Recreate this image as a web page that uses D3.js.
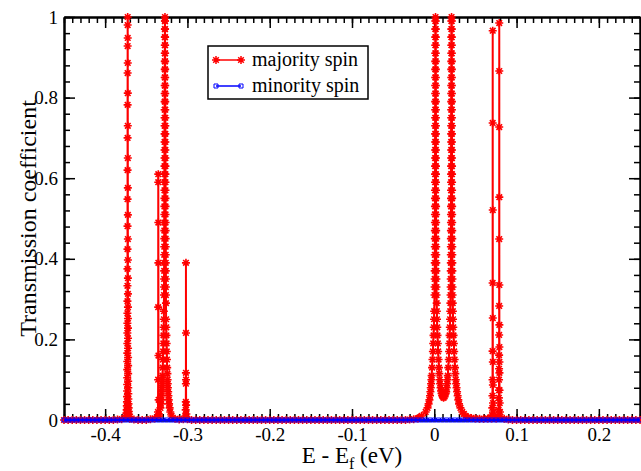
<!DOCTYPE html>
<html>
<head>
<meta charset="utf-8">
<script src="https://cdn.jsdelivr.net/npm/d3@7"></script>
<style>
  html, body { margin: 0; padding: 0; background: #fff; }
</style>
</head>
<body>
<div id="chart"></div>
<script>
// tick labels
const xTicks = [-0.4, -0.3, -0.2, -0.1, 0, 0.1, 0.2];
const yTicks = [0, 0.2, 0.4, 0.6, 0.8, 1];
const seriesNames = ["majority spin", "minority spin"];

// energy grid of the flat background (eV)
const energyGrid = [
  -0.45,-0.445,-0.44,-0.435,-0.43,-0.425,-0.42,-0.415,-0.41,-0.405,
  -0.4,-0.395,-0.39,-0.385,-0.38,-0.375,-0.37,-0.365,-0.36,-0.355,
  -0.35,-0.345,-0.34,-0.335,-0.33,-0.325,-0.32,-0.315,-0.31,-0.305,
  -0.3,-0.295,-0.29,-0.285,-0.28,-0.275,-0.27,-0.265,-0.26,-0.255,
  -0.25,-0.245,-0.24,-0.235,-0.23,-0.225,-0.22,-0.215,-0.21,-0.205,
  -0.2,-0.195,-0.19,-0.185,-0.18,-0.175,-0.17,-0.165,-0.16,-0.155,
  -0.15,-0.145,-0.14,-0.135,-0.13,-0.125,-0.12,-0.115,-0.11,-0.105,
  -0.1,-0.095,-0.09,-0.085,-0.08,-0.075,-0.07,-0.065,-0.06,-0.055,
  -0.05,-0.045,-0.04,-0.035,-0.03,-0.025,-0.02,-0.015,-0.01,-0.005,
  0,0.005,0.01,0.015,0.02,0.025,0.03,0.035,0.04,0.045,
  0.05,0.055,0.06,0.065,0.07,0.075,0.08,0.085,0.09,0.095,
  0.1,0.105,0.11,0.115,0.12,0.125,0.13,0.135,0.14,0.145,
  0.15,0.155,0.16,0.165,0.17,0.175,0.18,0.185,0.19,0.195,
  0.2,0.205,0.21,0.215,0.22,0.225,0.23,0.235,0.24,0.245,
  0.25
];

// majority background on the grid (null = inside a resonance listed below)
const majorityBaseT = [
  0,0,0,0,0,0,0,0,0,0,
  0,0,0,0.001,0.002,null,0.003,0.001,0,0,
  0,0.002,0.004,null,null,null,null,0.003,0.001,0.002,
  0.002,0,0,0,0,0,0,0,0,0,
  0,0,0,0,0,0,0,0,0,0,
  0,0,0,0,0,0,0,0,0,0,
  0,0,0,0,0,0,0,0,0,0,
  0,0,0,0,0,0,0,0,0,0,
  0,0,0,0,0.001,0.002,0.004,null,null,null,
  null,null,null,null,null,null,null,null,null,null,
  0.004,0.003,0.003,0.004,null,null,null,0.003,0.001,0,
  0,0,0,0,0,0,0,0,0,0,
  0,0,0,0,0,0,0,0,0,0,
  0,0,0,0,0,0,0,0,0,0,
  0
];

// minority spin on the grid
const minorityT = [
  0,0,0,0,0,0,0,0,0,0,
  0,0,0,0,0,0,0,0,0,0,
  0,0,0,0,0,0,0,0,0,0,
  0,0,0,0,0,0,0,0,0,0,
  0,0,0,0,0,0,0,0,0,0,
  0,0,0,0,0,0,0,0,0,0,
  0,0,0,0,0,0,0,0,0,0,
  0,0,0,0,0,0,0,0,0,0,
  0,0,0,0,0,0,0,0,0,0,
  0,0,0,0,0,0,0,0,0,0,
  0,0,0,0,0,0,0,0,0,0,
  0,0,0,0,0,0,0,0,0,0,
  0,0,0,0,0,0,0,0,0,0,
  0,0,0,0,0,0,0,0,0,0,
  0
];

// majority resonances [E, T]
const peakA = [
  [-0.3752,0.006],[-0.3745,0.011],[-0.3741,0.017],[-0.37385,0.025],[-0.37365,0.035],[-0.37352,0.045],
  [-0.37341,0.058],[-0.37332,0.072],[-0.37324,0.088],[-0.37318,0.105],[-0.37313,0.125],[-0.37309,0.145],
  [-0.37305,0.166],[-0.37301,0.19],[-0.37298,0.216],[-0.37296,0.24],[-0.37293,0.265],[-0.37291,0.295],
  [-0.37288,0.333],[-0.37286,0.375],[-0.37283,0.424],[-0.37281,0.481],[-0.37278,0.548],[-0.37276,0.62],
  [-0.37273,0.70],[-0.37271,0.782],[-0.37268,0.861],[-0.37266,0.928],[-0.37263,0.98],[-0.3726,1.0],
  [-0.37255,0.948],[-0.37253,0.886],[-0.3725,0.811],[-0.37248,0.73],[-0.37245,0.65],[-0.37243,0.576],
  [-0.3724,0.509],[-0.37238,0.449],[-0.37235,0.397],[-0.37233,0.352],[-0.3723,0.313],[-0.37228,0.28],
  [-0.37226,0.252],[-0.37223,0.228],[-0.3722,0.203],[-0.37217,0.178],[-0.37213,0.155],[-0.37209,0.135],
  [-0.37205,0.115],[-0.37199,0.096],[-0.37192,0.08],[-0.37184,0.065],[-0.37175,0.052],[-0.37162,0.04],
  [-0.37146,0.03],[-0.37123,0.021],[-0.3709,0.014],[-0.3704,0.008]
];
const spikeB = [
  [-0.3358,0.02],[-0.3356,0.1],[-0.33553,0.28],[-0.33545,0.59],[-0.3354,0.61],[-0.33535,0.49],
  [-0.3353,0.39],[-0.3352,0.16],[-0.335,0.05],[-0.3347,0.015]
];
const peakC = [
  [-0.3345,0.01],[-0.3328,0.03],[-0.3322,0.04],[-0.3318,0.05],[-0.3315,0.06],[-0.3312,0.07],
  [-0.3309,0.08],[-0.3307,0.09],[-0.3305,0.10],[-0.3303,0.11],[-0.33,0.13],[-0.3298,0.15],
  [-0.3295,0.17],[-0.3293,0.19],[-0.3291,0.21],[-0.3289,0.23],[-0.3287,0.25],[-0.3286,0.27],
  [-0.32845,0.31],[-0.32838,0.33],[-0.32833,0.35],[-0.32827,0.37],[-0.32821,0.39],[-0.32818,0.41],
  [-0.32814,0.43],[-0.32811,0.45],[-0.32808,0.47],[-0.32805,0.49],[-0.32802,0.51],[-0.32799,0.53],
  [-0.32796,0.55],[-0.32793,0.57],[-0.32791,0.59],[-0.32788,0.61],[-0.32786,0.63],[-0.32783,0.65],
  [-0.32781,0.67],[-0.32778,0.69],[-0.32776,0.71],[-0.32775,0.73],[-0.32773,0.75],[-0.3277,0.77],
  [-0.32768,0.79],[-0.32766,0.81],[-0.32763,0.83],[-0.3276,0.85],[-0.32758,0.87],[-0.32755,0.89],
  [-0.32753,0.91],[-0.3275,0.93],[-0.32747,0.95],[-0.32742,0.97],[-0.32737,0.99],[-0.3273,1.0],
  [-0.32723,0.99],[-0.32718,0.97],[-0.32713,0.95],[-0.3271,0.93],[-0.32707,0.91],[-0.32705,0.89],
  [-0.32702,0.87],[-0.327,0.85],[-0.32697,0.83],[-0.32694,0.81],[-0.32692,0.79],[-0.3269,0.77],
  [-0.32687,0.75],[-0.32685,0.73],[-0.32684,0.71],[-0.32682,0.69],[-0.32679,0.67],[-0.32677,0.65],
  [-0.32674,0.63],[-0.32672,0.61],[-0.32669,0.59],[-0.32667,0.57],[-0.32664,0.55],[-0.32661,0.53],
  [-0.32658,0.51],[-0.32655,0.49],[-0.32652,0.47],[-0.32649,0.45],[-0.32646,0.43],[-0.32642,0.41],
  [-0.32639,0.39],[-0.32633,0.37],[-0.32628,0.35],[-0.32625,0.33],[-0.32618,0.31],[-0.3261,0.29],
  [-0.3259,0.25],[-0.3257,0.23],[-0.3255,0.21],[-0.3253,0.19],[-0.3251,0.17],[-0.3249,0.15],
  [-0.3246,0.13],[-0.3243,0.115],[-0.3241,0.10],[-0.3239,0.09],[-0.3237,0.08],[-0.3234,0.07],
  [-0.3231,0.06],[-0.3227,0.05],[-0.3223,0.04],[-0.3216,0.03],[-0.3208,0.02],[-0.3193,0.01]
];
const spikeD = [
  [-0.3024,0.01],[-0.3021,0.025],[-0.30195,0.045],[-0.30188,0.09],[-0.30184,0.117],[-0.3018,0.39],
  [-0.30176,0.216],[-0.3017,0.10],[-0.3016,0.037],[-0.3013,0.015]
];
const twinPeaks = [
  [-0.019,0.005],[-0.0155,0.01],[-0.0105,0.02],[-0.0082,0.03],[-0.0069,0.04],[-0.0059,0.05],
  [-0.0052,0.06],[-0.0047,0.07],[-0.0043,0.08],[-0.0039,0.09],[-0.0035,0.10],[-0.0032,0.11],
  [-0.0027,0.13],[-0.0022,0.15],[-0.0017,0.17],[-0.0013,0.19],[-0.0009,0.21],[-0.0006,0.23],
  [-0.0003,0.25],[-0.0001,0.27],[0.0003,0.31],[0.0004,0.33],[0.00047,0.35],[0.00053,0.37],
  [0.00059,0.39],[0.00062,0.41],[0.00066,0.43],[0.00069,0.45],[0.00072,0.47],[0.00075,0.49],
  [0.00078,0.51],[0.00081,0.53],[0.00084,0.55],[0.00087,0.57],[0.00089,0.59],[0.00092,0.61],
  [0.00094,0.63],[0.00097,0.65],[0.00099,0.67],[0.00102,0.69],[0.00104,0.71],[0.00105,0.73],
  [0.00107,0.75],[0.0011,0.77],[0.00112,0.79],[0.00114,0.81],[0.00117,0.83],[0.0012,0.85],
  [0.00122,0.87],[0.00125,0.89],[0.00127,0.91],[0.0013,0.93],[0.00133,0.95],[0.00138,0.97],
  [0.00143,0.99],[0.0015,1.0],
  [0.00157,0.99],[0.00162,0.97],[0.00167,0.95],[0.0017,0.93],[0.00173,0.91],[0.00175,0.89],
  [0.00178,0.87],[0.0018,0.85],[0.00183,0.83],[0.00186,0.81],[0.00188,0.79],[0.0019,0.77],
  [0.00193,0.75],[0.00195,0.73],[0.00196,0.71],[0.00198,0.69],[0.00201,0.67],[0.00203,0.65],
  [0.00206,0.63],[0.00208,0.61],[0.00211,0.59],[0.00213,0.57],[0.00216,0.55],[0.00219,0.53],
  [0.00222,0.51],[0.00225,0.49],[0.00228,0.47],[0.00231,0.45],[0.00234,0.43],[0.00238,0.41],
  [0.00241,0.39],[0.00247,0.37],[0.00253,0.35],[0.0026,0.33],[0.0027,0.31],[0.0029,0.29],
  [0.0031,0.27],[0.0033,0.25],[0.0036,0.23],[0.0039,0.21],[0.0043,0.19],[0.0047,0.17],
  [0.0052,0.15],[0.0057,0.13],[0.0061,0.115],[0.0066,0.10],[0.0071,0.09],[0.0076,0.08],
  [0.0082,0.072],[0.0089,0.066],[0.0096,0.061],[0.0103,0.058],[0.0113,0.055],
  [0.0125,0.058],[0.0138,0.066],[0.0145,0.07],[0.0151,0.08],[0.0156,0.09],[0.016,0.10],
  [0.0164,0.11],[0.017,0.13],[0.0176,0.15],[0.018,0.17],[0.0183,0.19],[0.0186,0.21],
  [0.0189,0.23],[0.0192,0.25],[0.0194,0.27],[0.0196,0.29],[0.0198,0.31],[0.0199,0.33],
  [0.01997,0.35],[0.02003,0.37],[0.02009,0.39],[0.02012,0.41],[0.02016,0.43],[0.02019,0.45],
  [0.02022,0.47],[0.02025,0.49],[0.02028,0.51],[0.02031,0.53],[0.02034,0.55],[0.02037,0.57],
  [0.02039,0.59],[0.02042,0.61],[0.02044,0.63],[0.02047,0.65],[0.02049,0.67],[0.02052,0.69],
  [0.02054,0.71],[0.02055,0.73],[0.02057,0.75],[0.0206,0.77],[0.02062,0.79],[0.02064,0.81],
  [0.02067,0.83],[0.0207,0.85],[0.02072,0.87],[0.02075,0.89],[0.02077,0.91],[0.0208,0.93],
  [0.02083,0.95],[0.02088,0.97],[0.02093,0.99],[0.021,1.0],
  [0.02107,0.99],[0.02112,0.97],[0.02117,0.95],[0.0212,0.93],[0.02123,0.91],[0.02125,0.89],
  [0.02128,0.87],[0.0213,0.85],[0.02133,0.83],[0.02136,0.81],[0.02138,0.79],[0.0214,0.77],
  [0.02143,0.75],[0.02145,0.73],[0.02146,0.71],[0.02148,0.69],[0.02151,0.67],[0.02153,0.65],
  [0.02156,0.63],[0.02158,0.61],[0.02161,0.59],[0.02163,0.57],[0.02166,0.55],[0.02169,0.53],
  [0.02172,0.51],[0.02175,0.49],[0.02178,0.47],[0.02181,0.45],[0.02184,0.43],[0.02188,0.41],
  [0.02191,0.39],[0.02197,0.37],[0.02203,0.35],[0.0221,0.33],[0.0222,0.31],[0.0224,0.29],
  [0.0226,0.27],[0.0228,0.25],[0.0231,0.23],[0.0234,0.21],[0.0238,0.19],[0.0242,0.17],
  [0.0247,0.15],[0.0252,0.13],[0.0256,0.115],[0.0261,0.10],[0.0266,0.09],[0.0271,0.08],
  [0.0277,0.07],[0.0284,0.06],[0.0292,0.05],[0.0301,0.04],[0.0318,0.03],[0.034,0.02],
  [0.036,0.015],[0.038,0.01],[0.041,0.007],[0.045,0.005]
];
const spikesEF = [
  [0.0696,0.004],[0.0702,0.012],[0.0705,0.03],[0.0707,0.06],[0.0708,0.10],[0.07085,0.171],
  [0.0709,0.34],[0.07095,0.737],[0.071,0.966],[0.07105,0.521],[0.0711,0.253],[0.07115,0.144],
  [0.0712,0.087],[0.0714,0.042],[0.0717,0.02],[0.0722,0.008],
  [0.0752,0.004],
  [0.0776,0.01],[0.0782,0.025],[0.0785,0.055],[0.0786,0.074],[0.0787,0.1],[0.07875,0.127],
  [0.0788,0.161],[0.07883,0.211],[0.07886,0.283],[0.0789,0.449],[0.07893,0.727],[0.07896,0.985],
  [0.079,0.866],[0.07903,0.553],[0.07906,0.335],[0.0791,0.236],[0.07913,0.181],[0.07917,0.144],
  [0.0792,0.117],[0.0793,0.074],[0.0795,0.042],[0.0798,0.02],[0.0803,0.008]
];

const width = 641;
const height = 471;
const margin = { top: 17, right: 1, bottom: 51, left: 64 };
const plotW = width - margin.left - margin.right;
const plotH = height - margin.top - margin.bottom;
const serif = '"Liberation Serif", "Times New Roman", serif';

const majority = energyGrid
  .map((e, i) => [e, majorityBaseT[i]])
  .filter((d) => d[1] !== null)
  .concat(peakA, spikeB, peakC, spikeD, twinPeaks, spikesEF)
  .sort((a, b) => a[0] - b[0]);
const minority = energyGrid.map((e, i) => [e, minorityT[i]]);

const svg = d3
  .select("#chart")
  .append("svg")
  .attr("width", width)
  .attr("height", height)
  .attr("font-family", serif);

const g = svg.append("g").attr("transform", `translate(${margin.left},${margin.top})`);

const x = d3.scaleLinear().domain([-0.45, 0.25]).range([0, plotW]);
const y = d3.scaleLinear().domain([0, 1]).range([plotH, 0]);

const xMinor = d3.range(-0.45, 0.2501, 0.01).map((v) => +v.toFixed(2));
const yMinor = d3.range(0, 1.0001, 0.04).map((v) => +v.toFixed(2));
const fmt = (d) => String(d);

const styleAxis = (sel) => {
  sel.attr("font-family", serif).attr("font-size", 19);
  sel.select(".domain").attr("stroke", "#000").attr("stroke-width", 2);
  sel.selectAll(".tick line").attr("stroke", "#000").attr("stroke-width", 1.5);
  sel.selectAll(".tick text").attr("fill", "#000");
};

// minor ticks
g.append("g").attr("transform", `translate(0,${plotH})`)
  .call(d3.axisBottom(x).tickValues(xMinor).tickSize(-6).tickSizeOuter(0).tickFormat(""))
  .call(styleAxis);
g.append("g")
  .call(d3.axisTop(x).tickValues(xMinor).tickSize(-6).tickSizeOuter(0).tickFormat(""))
  .call(styleAxis);
g.append("g")
  .call(d3.axisLeft(y).tickValues(yMinor).tickSize(-6).tickSizeOuter(0).tickFormat(""))
  .call(styleAxis);
g.append("g").attr("transform", `translate(${plotW},0)`)
  .call(d3.axisRight(y).tickValues(yMinor).tickSize(-6).tickSizeOuter(0).tickFormat(""))
  .call(styleAxis);

// major ticks
g.append("g").attr("transform", `translate(0,${plotH})`)
  .call(d3.axisBottom(x).tickValues(xTicks).tickSize(-11).tickSizeOuter(0).tickPadding(8).tickFormat(fmt))
  .call(styleAxis);
g.append("g")
  .call(d3.axisTop(x).tickValues(xTicks).tickSize(-11).tickSizeOuter(0).tickFormat(""))
  .call(styleAxis);
g.append("g")
  .call(d3.axisLeft(y).tickValues(yTicks).tickSize(-11).tickSizeOuter(0).tickPadding(6).tickFormat(fmt))
  .call(styleAxis);
g.append("g").attr("transform", `translate(${plotW},0)`)
  .call(d3.axisRight(y).tickValues(yTicks).tickSize(-11).tickSizeOuter(0).tickFormat(""))
  .call(styleAxis);

// series
const starPath = "M-4,0H4M0,-4V4M-2.8,-2.8L2.8,2.8M-2.8,2.8L2.8,-2.8";
const squarePath = d3.symbol(d3.symbolSquare, 16)();
const line = d3.line().x((d) => x(d[0])).y((d) => y(d[1]));

g.append("path")
  .datum(majority)
  .attr("d", line)
  .attr("fill", "none")
  .attr("stroke", "#ff0000")
  .attr("stroke-width", 2);
g.append("g")
  .selectAll("path")
  .data(majority)
  .join("path")
  .attr("transform", (d) => `translate(${x(d[0])},${y(d[1])})`)
  .attr("d", starPath)
  .attr("fill", "none")
  .attr("stroke", "#ff0000")
  .attr("stroke-width", 1.6);

g.append("path")
  .datum(minority)
  .attr("d", line)
  .attr("fill", "none")
  .attr("stroke", "#0000ff")
  .attr("stroke-width", 2);
g.append("g")
  .selectAll("path")
  .data(minority)
  .join("path")
  .attr("transform", (d) => `translate(${x(d[0])},${y(d[1])})`)
  .attr("d", squarePath)
  .attr("fill", "none")
  .attr("stroke", "#0000ff")
  .attr("stroke-width", 1);

// legend
const legend = svg.append("g").attr("transform", "translate(208,46)");
legend.append("rect")
  .attr("width", 160)
  .attr("height", 53)
  .attr("fill", "#fff")
  .attr("stroke", "#000")
  .attr("stroke-width", 1.5);
const rows = legend.selectAll("g.row")
  .data(seriesNames)
  .join("g")
  .attr("class", "row")
  .attr("transform", (d, i) => `translate(0,${14 + i * 26})`);
rows.append("line")
  .attr("x1", 8).attr("x2", 33)
  .attr("stroke", (d, i) => (i === 0 ? "#ff0000" : "#0000ff"))
  .attr("stroke-width", 1.5);
rows.selectAll("path")
  .data((d, i) => [8, 33].map((px) => ({ px, i })))
  .join("path")
  .attr("transform", (d) => `translate(${d.px},0)`)
  .attr("d", (d) => (d.i === 0 ? starPath : squarePath))
  .attr("fill", "none")
  .attr("stroke", (d) => (d.i === 0 ? "#ff0000" : "#0000ff"))
  .attr("stroke-width", (d) => (d.i === 0 ? 1.5 : 1));
rows.append("text")
  .attr("x", 44)
  .attr("y", 6)
  .attr("font-size", 20)
  .text((d) => d);

// axis titles
const xTitle = svg.append("text")
  .attr("x", margin.left + plotW / 2)
  .attr("y", 463)
  .attr("text-anchor", "middle")
  .attr("font-size", 23);
xTitle.append("tspan").text("E - E");
xTitle.append("tspan").attr("font-size", 16).attr("dy", 6).text("f");
xTitle.append("tspan").attr("dy", -6).text(" (eV)");

svg.append("text")
  .attr("transform", `translate(36,${margin.top + plotH / 2}) rotate(-90)`)
  .attr("text-anchor", "middle")
  .attr("font-size", 24)
  .text("Transmission coefficient");
</script>
</body>
</html>
